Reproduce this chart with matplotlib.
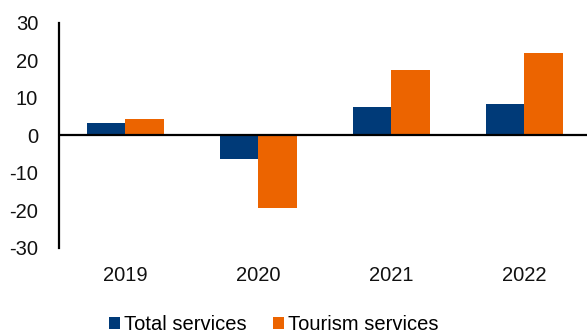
import matplotlib
matplotlib.use("Agg")
import matplotlib.pyplot as plt
import numpy as np

years = ["2019", "2020", "2021", "2022"]
total_services = [3.1, -6.5, 7.5, 8.2]
tourism_services = [4.4, -19.5, 17.4, 21.9]
series_names = ["Total services", "Tourism services"]

NAVY = "#003A78"
ORANGE = "#EC6400"

plt.rcParams["font.family"] = ["Liberation Sans", "DejaVu Sans"]
plt.rcParams["axes.unicode_minus"] = False

fig = plt.figure(figsize=(5.87, 3.36), dpi=100)
ax = fig.add_axes([59 / 587, 1 - 247.5 / 336, 1 - 59 / 587, 225 / 336])

x = np.arange(len(years))
w = 0.286
ax.bar(x - w / 2, total_services, width=w, color=NAVY, label=series_names[0], zorder=2)
ax.bar(x + w / 2, tourism_services, width=w, color=ORANGE, label=series_names[1], zorder=2)

ax.axhline(0, color="black", lw=1.6, zorder=3)

ax.set_xlim(-0.5, 3.47)
ax.set_ylim(-30, 30)
ax.set_yticks(range(-30, 31, 10))
ax.set_xticks(x)
ax.set_xticklabels(years)

for s in ["top", "right", "bottom"]:
    ax.spines[s].set_visible(False)
ax.spines["left"].set_linewidth(1.6)
ax.spines["left"].set_color("black")

ax.tick_params(axis="y", length=0, pad=15, labelsize=14.5, colors="#111111")
ax.tick_params(axis="x", length=0, pad=13, labelsize=14.5, colors="#111111")

fig.legend(loc="center", bbox_to_anchor=(274 / 587, 1 - 325 / 336), ncol=2,
           frameon=False, fontsize=14.5, handlelength=0.55, handleheight=0.55,
           handletextpad=0.2, columnspacing=1.3, borderaxespad=0)

fig.savefig("out.png", dpi=100)
